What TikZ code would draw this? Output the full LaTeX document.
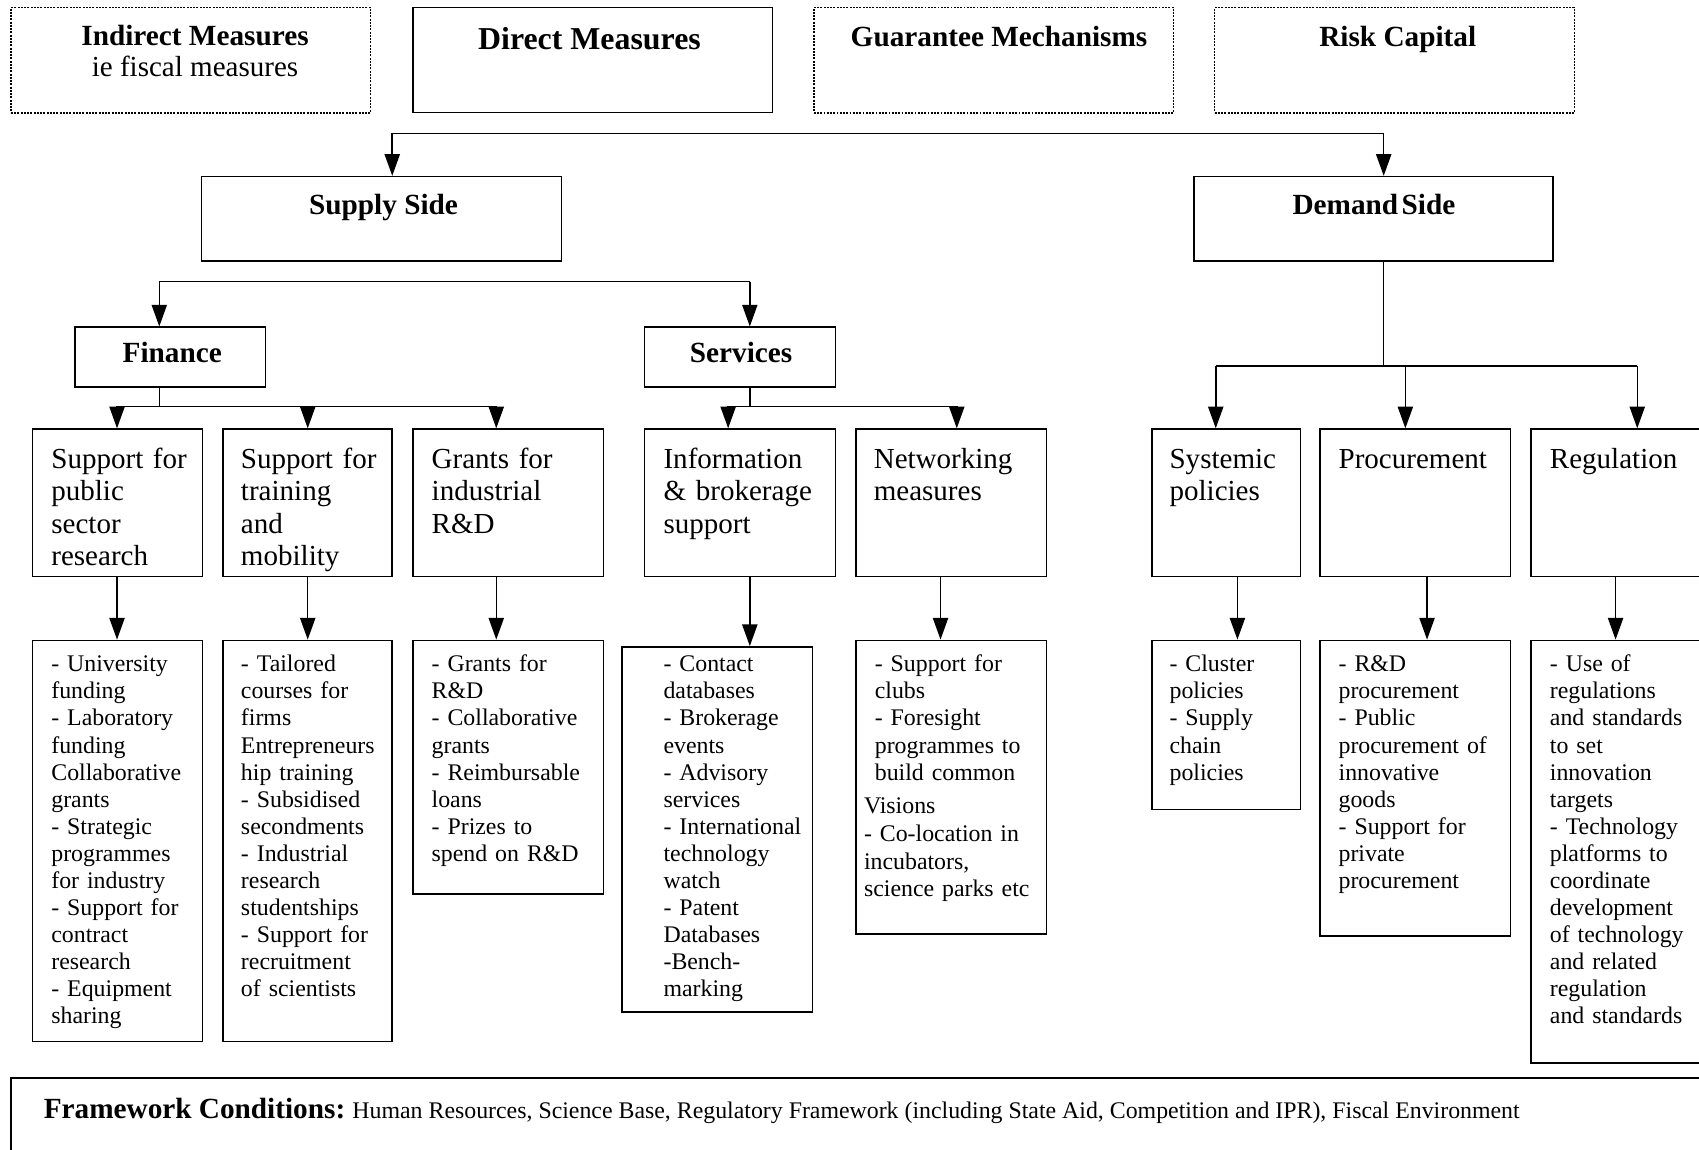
\documentclass[tikz,border=0pt]{standalone}
\usepackage{fontspec}
\setmainfont{Liberation Serif}
\usetikzlibrary{arrows.meta,fit}
\begin{document}
\begin{tikzpicture}[x=0.5pt,y=-0.5pt,
  box/.style={draw, line width=0.7pt, inner sep=0pt},
  dbox/.style={draw, line width=0.75pt, inner sep=0pt, dash pattern=on 0.9pt off 0.6pt},
  arr/.style={line width=0.7pt, -{Triangle[length=10pt,width=7pt]}},
  ln/.style={line width=0.7pt},
  head/.style={font=\fontsize{13.5}{16}\selectfont\bfseries, anchor=base, inner sep=0pt},
  sub/.style={font=\fontsize{13.4}{16}\selectfont, anchor=base, inner sep=0pt},
  mid/.style={font=\fontsize{13.4}{15}\selectfont, align=left, anchor=base west, inner sep=0pt, text width=85pt},
  low/.style={font=\fontsize{11}{12.5}\selectfont, align=left, anchor=base west, inner sep=0pt, text width=90pt},
]
\useasboundingbox (0,0) rectangle (1568,1061);
\clip (0,0) rectangle (1568,1061);

% top row
\node[dbox, fit={(10,7) (342,104)}] (ind) {};
\node[box,  fit={(381,7) (713,104)}] (dir) {};
\node[dbox, fit={(751,7) (1083,104)}] (gua) {};
\node[dbox, fit={(1121,7) (1453,104)}] (risk) {};
\node[head] (indt) at (180,42) {Indirect Measures};
\node[sub]  (inds) at (180,71) {ie fiscal measures};
\node[head, font=\fontsize{14.7}{17}\selectfont\bfseries] (dirt) at (544,46) {Direct Measures};
\node[head] (guat) at (922,43) {Guarantee Mechanisms};
\node[head] (riskt) at (1290,43) {Risk Capital};

% supply / demand
\node[box, fit={(186,163) (518,241)}] (sup) {};
\node[box, fit={(1102,163) (1433,241)}] (dem) {};
\node[head] (supt) at (354,198) {Supply Side};
\node[head] (demt) at (1268,198) {Demand\hspace{0.12em}Side};

\coordinate (t1) at (362,123);
\coordinate (t2) at (1277,123);
\draw[ln] (t1) -- (t2);
\draw[arr] (t1) -- (t1 |- sup.north);
\draw[arr] (t2) -- (t2 |- dem.north);

% finance / services
\node[box, fit={(69,302) (245,357)}] (fin) {};
\node[box, fit={(595,302) (771,357)}] (ser) {};
\node[head] (fint) at (159,335) {Finance};
\node[head] (sert) at (684,335) {Services};

\coordinate (s1) at (147,260);
\coordinate (s2) at (692,260);
\draw[ln] (s1) -- (s2);
\draw[arr] (s1) -- (s1 |- fin.north);
\draw[arr] (s2) -- (s2 |- ser.north);

% row 2 boxes
\node[box, fit={(30,396) (187,532)}] (b1) {};
\node[box, fit={(206,396) (362,532)}] (b2) {};
\node[box, fit={(381,396) (557,532)}] (b3) {};
\node[box, fit={(595,396) (771,532)}] (b4) {};
\node[box, fit={(790,396) (966,532)}] (b5) {};
\node[box, fit={(1063,396) (1200,532)}] (b6) {};
\node[box, fit={(1218,396) (1394,532)}] (b7) {};
\node[box, fit={(1413,396) (1590,532)}] (b8) {};

\node[mid] (b1t) at (47,432) {Support for\\public\\sector\\research};
\node[mid] (b2t) at (222,432) {Support for\\training\\and\\mobility};
\node[mid] (b3t) at (398,432) {Grants for\\industrial\\R\&D};
\node[mid] (b4t) at (612,432) {Information\\\& brokerage\\support};
\node[mid] (b5t) at (806,432) {Networking\\measures};
\node[mid] (b6t) at (1079,432) {Systemic\\policies};
\node[mid] (b7t) at (1235,432) {Procurement};
\node[mid] (b8t) at (1430,432) {Regulation};

% finance branch
\coordinate (f0) at (147,375);
\coordinate (f1) at (108,375);
\coordinate (f2) at (284,375);
\coordinate (f3) at (458,375);
\draw[ln] (fin.south -| f0) -- (f0);
\draw[ln] (f1) -- (f3);
\draw[arr] (f1) -- (f1 |- b1.north);
\draw[arr] (f2) -- (f2 |- b2.north);
\draw[arr] (f3) -- (f3 |- b3.north);

% services branch
\coordinate (v0) at (692,375);
\coordinate (v1) at (672,375);
\coordinate (v2) at (883,375);
\draw[ln] (ser.south -| v0) -- (v0);
\draw[ln] (v1) -- (v2);
\draw[arr] (v1) -- (v1 |- b4.north);
\draw[arr] (v2) -- (v2 |- b5.north);

% demand branch
\coordinate (d0) at (1277,338);
\coordinate (d1) at (1122,338);
\coordinate (d2) at (1297,338);
\coordinate (d3) at (1511,338);
\draw[ln] (dem.south -| d0) -- (d0);
\draw[ln] (d1) -- (d3);
\draw[arr] (d1) -- (d1 |- b6.north);
\draw[arr] (d2) -- (d2 |- b7.north);
\draw[arr] (d3) -- (d3 |- b8.north);

% row 3 boxes
\node[box, fit={(30,591) (187,961)}] (c1) {};
\node[box, fit={(206,591) (362,961)}] (c2) {};
\node[box, fit={(381,591) (557,825)}] (c3) {};
\node[box, fit={(574,597) (750,934)}] (c4) {};
\node[box, fit={(790,591) (966,862)}] (c5) {};
\node[box, fit={(1063,591) (1200,747)}] (c6) {};
\node[box, fit={(1218,591) (1394,864)}] (c7) {};
\node[box, fit={(1413,591) (1590,981)}] (c8) {};

\coordinate (a1) at (108,0);
\coordinate (a2) at (284,0);
\coordinate (a3) at (458,0);
\coordinate (a4) at (692,0);
\coordinate (a5) at (868,0);
\coordinate (a6) at (1142,0);
\coordinate (a7) at (1317,0);
\coordinate (a8) at (1491,0);
\draw[arr] (a1 |- b1.south) -- (a1 |- c1.north);
\draw[arr] (a2 |- b2.south) -- (a2 |- c2.north);
\draw[arr] (a3 |- b3.south) -- (a3 |- c3.north);
\draw[arr] (a4 |- b4.south) -- (a4 |- c4.north);
\draw[arr] (a5 |- b5.south) -- (a5 |- c5.north);
\draw[arr] (a6 |- b6.south) -- (a6 |- c6.north);
\draw[arr] (a7 |- b7.south) -- (a7 |- c7.north);
\draw[arr] (a8 |- b8.south) -- (a8 |- c8.north);

\node[low] (c1t) at (47,620) {- University\\funding\\- Laboratory\\funding\\Collaborative\\grants\\- Strategic\\programmes\\for industry\\- Support for\\contract\\research\\- Equipment\\sharing};
\node[low] (c2t) at (222,620) {- Tailored\\courses for\\firms\\Entrepreneurs\\hip training\\- Subsidised\\secondments\\- Industrial\\research\\studentships\\- Support for\\recruitment\\of scientists};
\node[low] (c3t) at (398,620) {- Grants for\\R\&D\\- Collaborative\\grants\\- Reimbursable\\loans\\- Prizes to\\spend on R\&D};
\node[low] (c4t) at (612,620) {- Contact\\databases\\- Brokerage\\events\\- Advisory\\services\\- International\\technology\\watch\\- Patent\\Databases\\-Bench-\\marking};
\node[low] (c5t) at (807,620) {- Support for\\clubs\\- Foresight\\programmes to\\build common};
\node[low, font=\fontsize{11}{12.8}\selectfont] (c5u) at (797,751) {Visions\\\makebox[76.5pt][s]{- Co-location in}\\incubators,\\science parks etc};
\node[low] (c6t) at (1079,620) {- Cluster\\policies\\- Supply\\chain\\policies};
\node[low] (c7t) at (1235,620) {- R\&D\\procurement\\- Public\\procurement of\\innovative\\goods\\- Support for\\private\\procurement};
\node[low] (c8t) at (1430,620) {- Use of\\regulations\\and standards\\to set\\innovation\\targets\\- Technology\\platforms to\\coordinate\\development\\of technology\\and related\\regulation\\and standards};

% framework conditions
\node[draw, line width=1.1pt, inner sep=0pt, fit={(10,995) (1600,1090)}] (fw) {};
\node[anchor=base west, inner sep=0pt] (fwt) at (40,1032) {{\fontsize{13.5}{16}\selectfont\bfseries Framework Conditions:} {\fontsize{11}{12}\selectfont Human Resources, Science Base, Regulatory Framework (including State Aid, Competition and IPR), Fiscal Environment}};
\end{tikzpicture}
\end{document}
